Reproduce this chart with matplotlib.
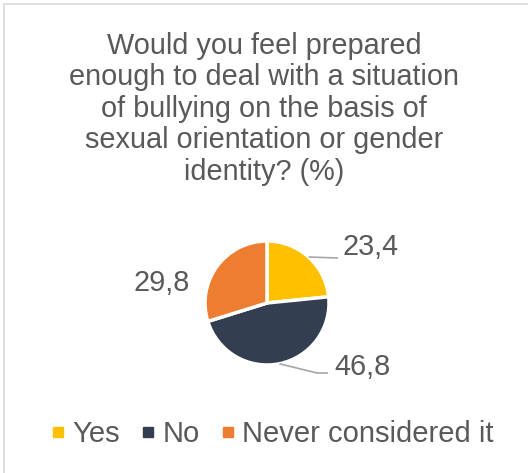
import math
import matplotlib.pyplot as plt
import matplotlib.patches as patches
from matplotlib.lines import Line2D

W, H = 528, 473

title = ("Would you feel prepared\nenough to deal with a situation\n"
         "of bullying on the basis of\nsexual orientation or gender\nidentity? (%)")
labels = ["Yes", "No", "Never considered it"]
values = [23.4, 46.8, 29.8]
colors = ["#FFC000", "#333F50", "#ED7D31"]
text_color = "#595959"

plt.rcParams['font.family'] = ['Liberation Sans', 'DejaVu Sans']

fig = plt.figure(figsize=(W / 100, H / 100), dpi=100)
# one axes spanning the figure, in pixel units (y up)
ax = fig.add_axes([0, 0, 1, 1])

# chart border (left and top edges visible)
ax.add_patch(patches.Rectangle((4, -10), W + 20, H - 4 + 10, fill=False,
                               edgecolor="#D9D9D9", linewidth=1.2))

fig.text(0.5, (H - 32) / H, title, ha='center', va='top', fontsize=20.8,
         color=text_color, linespacing=1.155)

cx, cy, r = 267, 170, 62
wedges, _ = ax.pie(values, colors=colors, startangle=90, counterclock=False,
                   center=(cx, cy), radius=r, frame=True,
                   wedgeprops=dict(edgecolor='white', linewidth=2.5))
ax.set_xlim(0, W)
ax.set_ylim(0, H)
ax.set_aspect('equal')
ax.axis('off')

# label placements: (text x, text y, leader path or None)
label_pos = [
    (371, H - 247, [(338, H - 258)]),
    (362, H - 367, [(317, H - 373), (328, H - 373)]),
    (162, H - 283, None),
]
for w, v, (tx, ty, path) in zip(wedges, values, label_pos):
    mid = math.radians((w.theta1 + w.theta2) / 2)
    ex, ey = cx + r * math.cos(mid), cy + r * math.sin(mid)
    if path:
        xs = [ex] + [p[0] for p in path]
        ys = [ey] + [p[1] for p in path]
        ax.plot(xs, ys, color="#A6A6A6", linewidth=1.2, solid_capstyle='butt')
    ax.text(tx, ty, f"{v:.1f}".replace('.', ','), ha='center', va='center',
            fontsize=20.8, color=text_color)

handles = [Line2D([], [], marker='s', linestyle='none', markersize=7.2,
                  markerfacecolor=c, markeredgecolor=c) for c in colors]
fig.legend(handles, labels, loc='center',
           bbox_to_anchor=(270 / W, (H - 434) / H),
           ncol=3, frameon=False, fontsize=21, labelcolor=text_color,
           handletextpad=0.1, columnspacing=0.55, handlelength=0.8)

fig.savefig("out.png", dpi=100)
